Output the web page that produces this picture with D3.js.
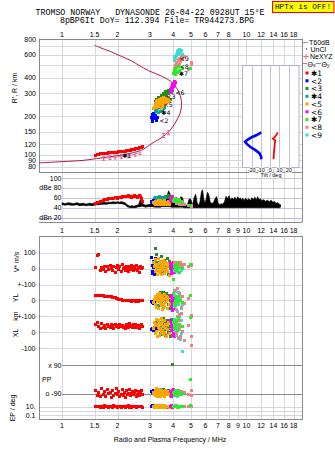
<!DOCTYPE html>
<html><head><meta charset="utf-8">
<script src="https://cdn.jsdelivr.net/npm/d3@7"></script>
<style>
body{margin:0;background:#fff;}
svg{display:block;}
text{font-family:"Liberation Sans",Arial,sans-serif;fill:#000;}
.mono{font-family:"Liberation Mono","DejaVu Sans Mono",monospace;white-space:pre;}
.sym{font-family:"DejaVu Sans",sans-serif;}
</style></head><body><svg id="c" width="335" height="451"></svg>
<script>
// ---------- axis ticks ----------
const freqTicks = [1,1.5,2,3,4,5,6,7,8,9,10,12,14,16,18];
const topTicks = [1,1.5,2,3,4,5,6,7,8,10,12,14,16,18];
const heightTicks = [800,600,400,300,200,150,120,100,90,80];
const heightGrid = [800,700,600,500,400,300,250,200,150,120,100,90,80];
const ampTicks = [100,80,60,40,20];
const ampLabels = ["100","dBe 80","60","40","dBn 20"];
const tiltTicks = [-20,-10,0,10,20];

// ---------- echo groups: [f MHz, h km, amp dB, V* m/s, YL km, XL km, PP deg, EP deg] ----------
const groupNames = ["\u27311","<2","<3","\u27314","<5","<6","\u27317","<8","<9"];
const groupColors = ["#ff0000","#0000ff","#248c24","#00a6a6","#ffa500","#ff00ff","#22f022","#f08080","#38dcd4"];
const groupLabelPos = [[2.12,98.3],[3.37,186],[3.67,282],[3.45,214],[3.55,246],[4.11,308],[4.29,430],[4.33,490],[4.33,560]];

const e1 = [
[1.52,99,49,5,31,45,-70,12],[1.55,100,50,82,30,60,-100,9],[1.58,100,51,88,28,35,-85,14],
[1.61,101,52,-10,29,20,-110,8],[1.64,101,53,8,27,55,-60,11],[1.67,101,55,-5,26,30,-95,7],
[1.70,102,56,15,25,40,-75,15],[1.73,102,57,-20,24,25,-105,9],[1.76,102,57,10,22,50,-65,12],
[1.79,103,58,-8,21,35,-90,6],[1.82,103,58,20,20,28,-80,13],[1.85,103,58,0,19,45,-115,10],
[1.88,103,59,-15,18,38,-70,8],[1.91,104,59,12,16,22,-100,16],[1.94,104,60,-25,14,48,-88,9],
[1.97,104,60,5,12,32,-60,11],[2.00,104,59,18,9,40,-95,7],[2.03,105,60,-6,6,26,-78,13],
[2.06,105,61,10,4,50,-108,10],[2.09,105,61,-18,2,34,-92,8],[2.12,105,62,25,0,42,-66,14],
[2.15,106,62,-2,-2,30,-100,9],[2.18,106,63,8,-4,36,-84,12],[2.21,106,63,-12,-5,24,-112,6],
[2.24,107,62,15,-6,46,-72,11],[2.27,107,63,0,-4,38,-96,10],[2.30,107,64,-20,-3,28,-86,15],
[2.33,108,63,12,-5,52,-62,8],[2.36,108,62,-8,-6,34,-104,12],[2.39,109,61,20,-7,40,-90,7],
[2.42,109,62,3,-5,30,-76,13],[2.45,110,63,-15,-4,44,-98,9],[2.48,110,64,10,-6,26,-82,11],
[2.51,111,63,-5,-7,48,-68,14],[2.54,111,62,18,-5,36,-110,8],[2.57,112,61,-10,-6,30,-92,10],
[2.60,112,63,5,-8,42,-78,12],[2.63,113,64,-22,-6,24,-102,9],[2.66,113,62,14,-5,38,-86,13],
[2.69,114,58,0,-4,46,-70,11],[2.72,115,52,8,-3,32,-94,8]];
const e2 = [
[3.07,195,52,70,-12,18,-76,14],[3.09,188,50,-30,-18,22,-80,12],[3.10,205,53,20,-10,15,-74,16],
[3.11,182,51,-20,-15,20,-78,13],[3.13,198,54,45,-20,12,-82,15],[3.15,210,50,5,-8,25,-72,11],
[3.18,192,52,-35,-14,16,-77,14],[3.20,202,49,60,-16,20,-79,12],[3.24,186,51,10,-12,18,-75,13],
[3.28,196,50,-10,-10,22,-81,15]];
const e3 = [
[3.22,258,55,125,20,40,-85,12],[3.26,268,57,90,-10,60,-70,9],[3.30,262,54,60,35,20,-95,14],
[3.35,280,58,40,0,75,-80,11],[3.40,272,56,-10,45,-15,-100,8],[3.45,290,59,75,-25,50,-75,15],
[3.50,285,57,20,15,30,-90,10],[3.55,300,60,-25,50,85,-65,13],[3.58,276,58,50,-40,10,-105,9],
[3.62,295,61,5,25,55,-82,12],[3.66,310,62,35,-15,-20,-92,10],[3.70,288,60,-15,40,40,-78,14],
[3.73,305,63,65,5,70,-98,8],[3.76,318,62,15,-30,25,-86,11],[3.80,298,64,-35,30,-5,-72,13],
[3.84,312,61,45,-5,60,-94,10],[3.88,322,60,0,20,35,-80,12],[3.92,308,58,25,-20,80,-90,9],
[3.96,325,56,-20,10,15,-84,11],[3.85,270,55,10,-50,-25,-100,8],[3.95,315,57,10,0,30,95,10]];
const e4 = [
[3.16,210,58,15,-20,30,-88,10],[3.20,220,60,-25,10,55,-70,14],[3.24,215,57,35,-5,10,-95,8],
[3.28,228,61,-5,25,45,-80,12],[3.32,212,59,20,-35,70,-100,16],[3.36,232,62,-15,5,20,-76,9],
[3.40,218,58,40,-25,-10,-90,11],[3.44,225,60,0,15,60,-84,13],[3.48,236,61,-30,-15,35,-66,8],
[3.52,222,59,25,30,5,-98,15],[3.56,230,57,10,-45,50,-82,10],[3.60,234,60,-20,0,25,-92,12]];
const e5 = [
[3.15,228,50,40,-15,20,-80,12],[3.18,235,48,10,5,60,-95,8],[3.20,242,52,-20,20,-10,-70,15],
[3.22,250,47,55,-30,40,-100,10],[3.24,232,53,0,10,80,-85,20],[3.26,258,49,25,-45,5,-60,7],
[3.28,240,46,-35,35,50,-105,13],[3.30,265,51,15,-10,-25,-90,9],[3.32,248,55,60,25,30,-75,18],
[3.34,236,50,-10,-55,70,-95,11],[3.36,270,48,30,0,15,-65,6],[3.38,255,52,-25,40,-20,-100,14],
[3.40,244,47,45,-20,55,-85,10],[3.42,262,54,5,15,25,-110,16],[3.44,230,49,-40,-35,85,-78,8],
[3.46,275,51,20,30,-5,-92,12],[3.48,252,46,-15,-5,45,-68,9],[3.50,268,53,35,-60,10,-102,15],
[3.52,238,50,-5,20,65,-88,11],[3.54,260,48,50,-25,-15,-74,7],[3.56,278,52,10,5,35,-96,13],
[3.58,246,47,-30,35,75,-82,10],[3.60,266,55,25,-40,0,-106,18],[3.62,254,49,-10,10,50,-70,8],
[3.65,272,51,40,-15,20,-92,12],[3.68,258,46,0,25,-25,-80,9],[3.71,264,50,15,-50,40,-98,14],
[3.74,270,48,-20,0,15,-76,10],[3.78,276,52,30,15,60,-88,11],[3.82,262,47,-45,-30,-10,-94,7]];
const e6 = [
[3.88,305,55,30,25,70,-75,12],[3.90,320,58,-20,-10,40,-95,9],[3.92,312,52,10,30,10,-85,15],
[3.94,335,60,-30,-40,60,-105,10],[3.96,328,56,20,5,-20,-70,13],[3.98,350,62,0,-65,30,-90,8],
[4.00,340,54,35,15,50,-80,11],[4.02,362,58,-10,-25,-10,-100,14],[4.04,355,53,15,-50,20,-65,9],
[4.06,372,57,-25,0,65,-88,12],[4.08,345,55,5,-30,-25,-96,10],[4.10,368,59,25,-5,35,-78,13]];
const e7 = [
[4.03,430,55,-70,40,60,-85,12],[4.06,445,58,10,-20,30,-95,10],[4.10,460,52,-5,0,45,-75,14],
[4.14,425,56,20,-35,20,-100,9],[4.18,475,54,-15,15,70,-80,11],[4.22,440,57,5,-10,10,-90,13],
[4.28,490,53,30,25,85,-70,8],[4.35,455,55,-25,-5,50,-92,12],[4.50,470,50,0,-15,35,-88,10],
[4.96,467,45,26,30,92,-4,17]];
const e8 = [
[4.08,470,52,40,60,20,-80,12],[4.12,500,55,15,-30,60,-95,9],[4.16,485,48,30,20,-10,-70,15],
[4.20,520,57,10,-60,45,-100,10],[4.24,495,50,35,70,100,-85,13],[4.28,540,54,20,-10,-40,-75,8],
[4.32,510,47,25,40,30,-92,11],[4.36,560,56,12,-90,70,-82,14],[4.40,530,51,38,0,-25,-98,10],
[4.46,575,53,18,-45,115,-78,12],[4.52,550,49,28,25,5,-90,9],[4.60,585,46,22,-20,-50,-85,11],
[4.86,460,45,15,10,40,-95,10],[5.06,526,44,22,-100,-29,-67,12],[5.05,505,43,18,-95,-87,-100,11]];
const e9 = [
[4.06,545,55,20,30,40,-85,12],[4.09,580,58,-10,-40,80,-100,9],[4.12,560,52,35,55,10,-72,15],
[4.15,610,56,5,-10,60,-92,10],[4.18,595,50,-20,20,-20,-80,13],[4.21,640,54,25,-70,30,-105,8],
[4.24,620,48,-5,5,95,-88,11],[4.27,655,53,15,45,-35,-76,14],[4.30,600,57,-25,-25,50,-96,10],
[4.34,665,51,30,-100,15,-84,12],[4.38,630,46,0,10,-45,-90,9],[4.42,585,52,10,-55,70,-78,13],
[4.46,645,49,-15,25,-10,-98,11],[4.52,610,47,20,-30,-123,-86,10]];
const groups = [e1,e2,e3,e4,e5,e6,e7,e8,e9];
const drawOrder = [0,2,3,1,4,5,8,7,6];

// ---------- background amplitude trace: [f, upper dB, lower dB] ----------
const noiseAmp = [
[1.00,50,46],[1.04,48,45],[1.08,50,46],[1.12,49,45],[1.16,48,45],[1.20,50,46],[1.25,48,44],[1.30,49,45],
[1.35,47,44],[1.40,49,45],[1.45,48,44],[1.50,49,45],[1.55,50,46],[1.60,49,46],[1.65,50,47],[1.70,51,47],
[1.75,50,47],[1.80,51,48],[1.85,51,48],[1.90,52,48],[1.95,51,48],[2.00,52,49],[2.05,51,48],[2.10,52,48],
[2.15,51,47],[2.20,50,46],[2.25,46,42],[2.30,44,41],[2.35,43,40],[2.40,44,40],[2.45,43,40],[2.50,44,40],
[2.55,45,41],[2.60,46,42],[2.65,55,42],[2.68,62,43],[2.72,50,43],[2.78,46,42],[2.85,45,41],[2.92,46,42],
[3.00,47,42],[3.10,52,42],[3.20,50,41],[3.30,54,41],[3.40,55,41],[3.50,58,42],[3.60,60,42],[3.70,62,42],
[3.78,74,42],[3.85,68,42],[3.92,50,41],[4.00,58,41],[4.10,52,41],[4.20,56,41],[4.30,50,41],[4.40,62,41],
[4.50,60,41],[4.60,46,40],[4.70,43,40],[4.80,48,40],[4.90,58,40],[5.00,56,40],[5.10,45,40],[5.20,60,40],
[5.30,67,40],[5.40,50,40],[5.50,44,40],[5.60,52,40],[5.70,72,40],[5.78,76,40],[5.85,60,40],[5.95,48,40],
[6.05,58,40],[6.15,71,40],[6.25,66,40],[6.35,52,40],[6.50,48,40],[6.65,52,40],[6.80,60,40],[6.90,62,40],
[7.00,50,40],[7.15,46,40],[7.30,48,40],[7.45,47,40],[7.60,52,40],[7.75,63,40],[7.90,58,40],[8.05,64,40],
[8.20,55,40],[8.35,60,40],[8.50,56,40],[8.65,61,40],[8.80,55,40],[8.95,62,40],[9.10,57,40],[9.25,60,40],
[9.40,55,40],[9.55,59,40],[9.70,54,40],[9.90,59,40],[10.1,55,40],[10.3,58,40],[10.5,54,40],[10.7,60,40],
[10.9,56,40],[11.1,61,40],[11.3,55,40],[11.5,62,40],[11.7,56,40],[11.9,58,40],[12.1,54,40],[12.4,56,40],
[12.7,53,40],[13.0,55,40],[13.3,52,40],[13.6,55,40],[13.9,51,40],[14.2,52,40],[14.5,49,40],[14.8,50,40],
[15.1,47,40],[15.3,46,41]];

// ---------- model profile curve and NeXYZ points: [f, h] ----------
const profileCurve = [[0.75,86],[1.0,88],[1.3,90],[1.54,93],[1.82,96],[2.1,99],[2.4,103],[2.6,106],[2.76,110],
[2.9,115],[3.07,122],[3.3,130],[3.48,136],[3.79,151],[4.01,167],[4.19,186],[4.35,207],[4.43,231],
[4.44,253],[4.41,277],[4.32,303],[4.19,328],[4.04,353],[3.86,376],[3.67,393],[3.45,411],[3.20,430],
[2.95,452],[2.6,500],[2.39,538],[2.1,585],[1.86,633],[1.65,675],[1.5,714]];
const neXYZ = [[1.68,93.5],[1.82,94.8],[1.94,95.6],[2.10,96.6],[2.29,97.8],[2.49,100.6],[2.65,103.7],[3.55,140.6],[3.78,148]];

// ---------- tilt inset: [tilt deg, h km] ----------
const tiltX = [[8.3,149],[5.4,138],[2.9,133],[5.4,129],[4.7,117],[4.0,102],[3.6,92]];
const tiltY = [[-9.7,149],[-14.4,142],[-19.8,136.5],[-24.5,130],[-27,126],[-25.2,121],[-20.9,114],
[-16.2,108.6],[-11.6,102.4],[-9.7,96.3],[-9.7,91.8]];

// ---------- scales ----------
const svg = d3.select("#c");
const x = d3.scaleLog().domain([0.75,20]).range([39,302]);
const yH = d3.scaleLog().domain([73,800]).range([172,39]);
const yA = d3.scaleLinear().domain([20,100]).range([217.5,178]);
const yV = d3.scaleLinear().domain([-100,100]).range([284.5,252.5]);
const yYL = d3.scaleLinear().domain([-100,100]).range([316,284]);
const yXL = d3.scaleLinear().domain([-100,100]).range([348,316]);
const yPP = d3.scaleLinear().domain([-90,90]).range([393.7,365]);
const yEP = d3.scaleLog().domain([0.1,10]).range([415.3,406.7]);
const xT = d3.scaleLinear().domain([-30,31]).range([242.3,299]);

const GRID = "#d6d6de", FRAME = "#8a8a8a";
const L = 39, R = 302;

function hline(y, x1, x2, c, w){ svg.append("line").attr("x1",x1).attr("x2",x2).attr("y1",Math.round(y)+0.5).attr("y2",Math.round(y)+0.5).attr("stroke",c).attr("stroke-width",w||1); }
function vline(xp, y1, y2, c, w){ svg.append("line").attr("x1",Math.round(xp)+0.5).attr("x2",Math.round(xp)+0.5).attr("y1",y1).attr("y2",y2).attr("stroke",c).attr("stroke-width",w||1); }
function txt(xp, yp, s, size, anchor, cls){ return svg.append("text").attr("x",xp).attr("y",yp).attr("font-size",size).attr("text-anchor",anchor||"start").attr("dominant-baseline","central").attr("class",cls||null).text(s); }

// ---------- title ----------
txt(150,12.5,"TROMSO NORWAY   DYNASONDE 26-04-22 0928UT 15\u00B0E",8.3,"middle","mono");
txt(157,20.5,"8pBP6It DoY= 112.394 File= TR944273.BPG",8.3,"middle","mono");
svg.append("rect").attr("x",272.5).attr("y",1.5).attr("width",61.5).attr("height",11).attr("fill","#ffff00").attr("stroke","#ff0000");
txt(303,7.3,"HPTx is OFF!",7.8,"middle","mono").attr("fill","#ff0000");

// ---------- grids ----------
freqTicks.forEach(f=>{ vline(x(f),39,172,GRID); vline(x(f),172,222,GRID); vline(x(f),236,419.5,GRID); });
heightGrid.forEach(h=>hline(yH(h),L,R,GRID));
ampTicks.forEach(a=>{ if(a===20) hline(yA(a),L,R,"#b4b8e6"); else hline(yA(a),x(1),R,"#c6c6cc"); });
[100,0,-100].forEach(v=>hline(yV(v),L,R,GRID));
[0,-100].forEach(v=>hline(yYL(v),L,R,GRID));
[0,-100].forEach(v=>hline(yXL(v),L,R,GRID));
[90,-90].forEach(v=>hline(yPP(v),x(1),R,"#8c8c8c"));
[10,1,0.1].forEach(v=>hline(yEP(v),L,R,GRID));

// frames
hline(38.5,L,R,FRAME); vline(L,38.5,172,FRAME); vline(R,38.5,222.5,FRAME);
hline(172,L,R,FRAME); hline(222,L,R,FRAME);
svg.append("rect").attr("x",L+0.5).attr("y",236.5).attr("width",R-L).attr("height",183).attr("fill","none").attr("stroke",FRAME);

// ---------- axis labels ----------
topTicks.forEach(f=>txt(x(f),34,String(f),7,"middle"));
freqTicks.forEach(f=>{ txt(x(f),230,String(f),7,"middle"); txt(x(f),425.5,String(f),7,"middle"); });
heightTicks.forEach(h=>txt(36,yH(h),String(h),7,"end"));
ampTicks.forEach((a,i)=>txt(61.5,yA(a),ampLabels[i],7,"end"));
txt(35.5,yV(100),"100",7,"end"); txt(35.5,yV(0),"0",7,"end"); txt(35.5,yV(-100),"+-100",7,"end");
txt(35.5,yYL(0),"0",7,"end"); txt(35.5,yYL(-100),"+-100",7,"end");
txt(35.5,yXL(0),"0",7,"end"); txt(35.5,yXL(-100),"-100",7,"end");
txt(61.5,yPP(90),"x  90",7,"end"); txt(61.5,yPP(-90),"o  -90",7,"end"); txt(42,yPP(0),"PP",7,"start");
txt(35.5,yEP(10),"10.",7,"end"); txt(35.5,yEP(0.1),"0.1",7,"end");
function vtxt(xp,yp,s){ svg.append("text").attr("transform",`translate(${xp},${yp}) rotate(-90)`).attr("font-size",7).attr("text-anchor","middle").attr("dominant-baseline","central").text(s); }
vtxt(14.5,88,"R', R / km"); vtxt(16,262,"V* m/s"); vtxt(15.5,298,"YL"); vtxt(15.5,316,"km"); vtxt(15.5,333,"XL"); vtxt(12.5,408,"EP / deg");
txt(170,439,"Radio and Plasma Frequency / MHz",7,"middle");

// ---------- amplitude background trace ----------
svg.append("path").datum(noiseAmp).attr("d",d3.area().x(d=>x(d[0])).y0(d=>yA(d[2])).y1(d=>yA(d[1])))
  .attr("fill","#000").attr("stroke","#000").attr("stroke-width",0.7);

// ---------- profile curve & NeXYZ ----------
svg.append("path").datum(profileCurve).attr("d",d3.line().x(d=>x(d[0])).y(d=>yH(d[1])).curve(d3.curveCatmullRom.alpha(0.5)))
  .attr("fill","none").attr("stroke","#b01848").attr("stroke-width",1);
svg.append("path").datum(neXYZ.slice(0,7)).attr("d",d3.line().x(d=>x(d[0])).y(d=>yH(d[1])))
  .attr("fill","none").attr("stroke","#e0609a").attr("stroke-width",0.8);
neXYZ.forEach(d=>{
  const cx=x(d[0]), cy=yH(d[1]);
  svg.append("path").attr("d",`M${cx-1.5},${cy-2}H${cx+1.5}M${cx},${cy-2}V${cy+2}M${cx-1.5},${cy+2}H${cx+1.5}`).attr("stroke","#e0609a").attr("stroke-width",1).attr("fill","none");
});

// ---------- echo points ----------
const panels = [[1,yH],[2,yA],[3,yV],[4,yYL],[5,yXL],[6,yPP],[7,yEP]];
drawOrder.forEach(gi=>{
  const g = svg.append("g").attr("fill",groupColors[gi]);
  panels.forEach(([col,sc])=>{
    g.selectAll(null).data(groups[gi]).enter().append("rect")
      .attr("x",d=>Math.round(x(d[0])-1.5)).attr("y",d=>Math.round(sc(d[col])-1.5))
      .attr("width",3).attr("height",3);
  });
});
// group labels
groupNames.forEach((n,i)=>{
  txt(x(groupLabelPos[i][0]),yH(groupLabelPos[i][1]),n,6.3,"start","sym");
});

// ---------- tilt inset ----------
svg.append("rect").attr("x",242.5).attr("y",65.5).attr("width",56.5).attr("height",102).attr("fill","#fff").attr("stroke","#b2b2c8");
tiltTicks.forEach(t=>vline(xT(t),66,167.5,"#c4c4d8"));
tiltTicks.forEach(t=>txt(xT(t),170.3,String(t),5.5,"middle").attr("stroke","#fff").attr("stroke-width",1.5).attr("paint-order","stroke"));
txt(271,175.2,"Tilt / deg",5.5,"middle").attr("stroke","#fff").attr("stroke-width",1.5).attr("paint-order","stroke");
svg.append("path").datum(tiltY).attr("d",d3.line().x(d=>xT(d[0])).y(d=>yH(d[1]))).attr("fill","none").attr("stroke","#0000ff").attr("stroke-width",2.6);
svg.append("path").datum(tiltX).attr("d",d3.line().x(d=>xT(d[0])).y(d=>yH(d[1]))).attr("fill","none").attr("stroke","#ff0000").attr("stroke-width",1.8);

// ---------- legend ----------
hline(41.5,303,308,"#a0a0a0");
txt(309,42,"T60dB",7,"start");
svg.append("rect").attr("x",306).attr("y",48.5).attr("width",1).attr("height",1).attr("fill","#000");
txt(310.5,49.3,"UnCl",7,"start");
svg.append("path").attr("d","M303.5,56.5H308.5M306,54V59").attr("stroke","#e0609a").attr("fill","none");
txt(310,56.5,"NeXYZ",7,"start");
hline(63,302.5,307,"#e0609a");
const tx = svg.append("text").attr("x",307.5).attr("y",63.5).attr("font-size",7).attr("dominant-baseline","central");
tx.append("tspan").text("\u0398");
tx.append("tspan").attr("font-size",5).attr("dy",1.5).text("x");
hline(63,316,321,"#8080e0");
const ty = svg.append("text").attr("x",321.5).attr("y",63.5).attr("font-size",7).attr("dominant-baseline","central");
ty.append("tspan").text("\u0398");
ty.append("tspan").attr("font-size",5).attr("dy",1.5).text("y");
groupNames.forEach((n,i)=>{
  const yy = 73 + i*7.75;
  svg.append("rect").attr("x",305.5).attr("y",yy-1.5).attr("width",3).attr("height",3).attr("fill",groupColors[i]);
  txt(311,yy+0.3,n,7.5,"start","sym");
});
</script></body></html>
